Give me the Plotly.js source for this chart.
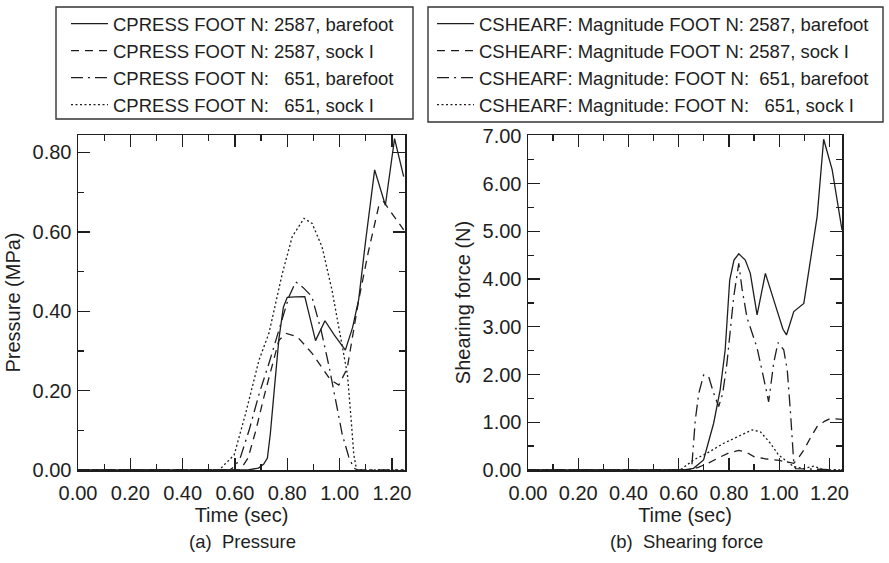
<!DOCTYPE html>
<html>
<head>
<meta charset="utf-8">
<script src="https://cdn.plot.ly/plotly-3.0.1.min.js"></script>
<style>html,body{margin:0;padding:0;background:#fff;}#chart{width:889px;height:563px;}</style>
</head>
<body>
<div id="chart"></div>
<script>
// ---------- Data: (a) Pressure (MPa) ----------
var tPBare2587 = [0, 0.60, 0.65, 0.69, 0.71, 0.724, 0.735, 0.75, 0.768, 0.785, 0.80, 0.83, 0.867, 0.908, 0.944, 0.98, 1.022, 1.05, 1.073, 1.10, 1.134, 1.175, 1.21, 1.245];
var pBare2587  = [0, 0, 0.0, 0.005, 0.015, 0.03, 0.09, 0.20, 0.33, 0.41, 0.435, 0.436, 0.437, 0.326, 0.376, 0.34, 0.302, 0.36, 0.43, 0.58, 0.756, 0.667, 0.835, 0.739];

var tPSock2587 = [0, 0.62, 0.65, 0.68, 0.711, 0.74, 0.768, 0.796, 0.838, 0.895, 0.965, 0.997, 1.029, 1.073, 1.11, 1.149, 1.168, 1.245];
var pSock2587  = [0, 0, 0.03, 0.10, 0.185, 0.26, 0.327, 0.344, 0.336, 0.294, 0.227, 0.214, 0.256, 0.428, 0.55, 0.663, 0.676, 0.605];

var tPBare651 = [0, 0.58, 0.60, 0.62, 0.654, 0.693, 0.73, 0.768, 0.806, 0.832, 0.86, 0.894, 0.93, 0.96, 0.984, 1.01, 1.035, 1.054, 1.07, 1.245];
var pBare651  = [0, 0, 0.01, 0.03, 0.10, 0.193, 0.269, 0.352, 0.436, 0.474, 0.46, 0.437, 0.35, 0.26, 0.176, 0.09, 0.033, 0.005, 0, 0];

var tPSock651 = [0, 0.54, 0.565, 0.597, 0.641, 0.692, 0.73, 0.781, 0.819, 0.864, 0.895, 0.933, 0.971, 1.0, 1.03, 1.045, 1.054, 1.065, 1.245];
var pSock651  = [0, 0, 0.017, 0.038, 0.143, 0.277, 0.345, 0.495, 0.588, 0.634, 0.621, 0.562, 0.453, 0.35, 0.24, 0.12, 0.04, 0, 0];

// ---------- Data: (b) Shearing force (N) ----------
var tSBare2587 = [0, 0.62, 0.659, 0.699, 0.739, 0.765, 0.785, 0.803, 0.82, 0.839, 0.865, 0.885, 0.912, 0.945, 0.985, 1.015, 1.029, 1.045, 1.058, 1.098, 1.151, 1.177, 1.211, 1.25];
var sBare2587  = [0, 0, 0.035, 0.21, 0.98, 1.68, 2.52, 3.98, 4.40, 4.53, 4.40, 4.12, 3.25, 4.12, 3.45, 2.95, 2.83, 3.10, 3.32, 3.49, 5.31, 6.93, 6.29, 5.03];

var tSSock2587 = [0, 0.64, 0.68, 0.72, 0.76, 0.80, 0.839, 0.87, 0.899, 0.95, 1.0, 1.04, 1.058, 1.08, 1.098, 1.125, 1.151, 1.18, 1.204, 1.25];
var sSock2587  = [0, 0, 0.06, 0.15, 0.26, 0.36, 0.41, 0.37, 0.28, 0.23, 0.20, 0.16, 0.14, 0.28, 0.42, 0.68, 0.91, 1.02, 1.08, 1.06];

var tSBare651 = [0, 0.645, 0.653, 0.666, 0.68, 0.699, 0.719, 0.739, 0.759, 0.775, 0.792, 0.819, 0.839, 0.852, 0.872, 0.912, 0.945, 0.958, 0.978, 0.995, 1.018, 1.032, 1.045, 1.058, 1.065, 1.25];
var sBare651  = [0, 0, 0.14, 1.05, 1.61, 1.99, 1.96, 1.61, 1.33, 1.60, 2.24, 3.63, 4.33, 3.80, 3.19, 2.56, 1.76, 1.43, 2.24, 2.67, 2.52, 2.10, 1.20, 0.15, 0.03, 0];

var tSSock651 = [0, 0.606, 0.659, 0.712, 0.779, 0.846, 0.892, 0.925, 0.965, 0.998, 1.032, 1.058, 1.098, 1.138, 1.164, 1.18, 1.25];
var sSock651  = [0, 0, 0.21, 0.35, 0.56, 0.73, 0.84, 0.80, 0.56, 0.31, 0.17, 0.07, 0.03, 0.08, 0.03, 0, 0];

// ---------- Labels ----------
var NB = '\u00a0';
var namesP = [
  'CPRESS FOOT N: 2587, barefoot',
  'CPRESS FOOT N: 2587, sock I',
  'CPRESS FOOT N:' + NB + NB + NB + '651, barefoot',
  'CPRESS FOOT N:' + NB + NB + NB + '651, sock I'
];
var namesS = [
  'CSHEARF: Magnitude FOOT N: 2587, barefoot',
  'CSHEARF: Magnitude FOOT N: 2587, sock I',
  'CSHEARF: Magnitude: FOOT N:' + NB + NB + '651, barefoot',
  'CSHEARF: Magnitude: FOOT N:' + NB + NB + NB + '651, sock I'
];
var xTickVals = [0, 0.2, 0.4, 0.6, 0.8, 1.0, 1.2];

var FONT = 'Liberation Sans, Arial, Helvetica, sans-serif';
var INK = '#1e1e1e';
var dashes = ['solid', '8px,6px', '12px,5px,2px,5px', '2px,2.5px'];

function tr(x, y, name, d, xa, ya, lg) {
  return {x: x, y: y, name: name, type: 'scatter', mode: 'lines',
    xaxis: xa, yaxis: ya, legend: lg,
    line: {color: INK, width: 1.3, dash: d, shape: 'linear'}, hoverinfo: 'skip'};
}

var data = [
  tr(tPBare2587, pBare2587, namesP[0], dashes[0], 'x', 'y', 'legend'),
  tr(tPSock2587, pSock2587, namesP[1], dashes[1], 'x', 'y', 'legend'),
  tr(tPBare651, pBare651, namesP[2], dashes[2], 'x', 'y', 'legend'),
  tr(tPSock651, pSock651, namesP[3], dashes[3], 'x', 'y', 'legend'),
  tr(tSBare2587, sBare2587, namesS[0], dashes[0], 'x2', 'y2', 'legend2'),
  tr(tSSock2587, sSock2587, namesS[1], dashes[1], 'x2', 'y2', 'legend2'),
  tr(tSBare651, sBare651, namesS[2], dashes[2], 'x2', 'y2', 'legend2'),
  tr(tSSock651, sSock651, namesS[3], dashes[3], 'x2', 'y2', 'legend2')
];

function xax(dom, anchor) {
  return {domain: dom, anchor: anchor, range: [0, 1.25], tickvals: xTickVals,
    tickformat: '.2f', ticks: 'inside', ticklen: 12, tickwidth: 1.3, tickcolor: INK,
    minor: {dtick: 0.1, tick0: 0, ticks: 'inside', ticklen: 6, tickwidth: 1.3, tickcolor: INK},
    showline: true, linecolor: INK, linewidth: 1.5, mirror: 'allticks',
    showgrid: false, zeroline: false, ticklabelstandoff: 4,
    tickfont: {family: FONT, size: 20, color: INK},
    title: {text: 'Time (sec)', font: {family: FONT, size: 20, color: INK}, standoff: 4}};
}
function yax(dom, anchor, rng, dt, mdt, title) {
  return {domain: dom, anchor: anchor, range: rng, dtick: dt, tick0: 0,
    tickformat: '.2f', ticks: 'inside', ticklen: 12, tickwidth: 1.3, tickcolor: INK,
    minor: {dtick: mdt, tick0: 0, ticks: 'inside', ticklen: 6, tickwidth: 1.3, tickcolor: INK},
    showline: true, linecolor: INK, linewidth: 1.5, mirror: 'allticks',
    showgrid: false, zeroline: false, ticklabelstandoff: 1,
    tickfont: {family: FONT, size: 20, color: INK},
    title: {text: title, font: {family: FONT, size: 20, color: INK}, standoff: 6}};
}

var yDom = [1 - 470 / 563, 1 - 135 / 563];
var legendBase = {
  xanchor: 'left', yanchor: 'top', bgcolor: 'rgba(0,0,0,0)', borderwidth: 0,
  font: {family: FONT, size: 18.5, color: INK}, itemwidth: 37, tracegroupgap: 0
};

var layout = {
  width: 889, height: 563, margin: {l: 0, r: 0, t: 0, b: 0},
  paper_bgcolor: '#fff', plot_bgcolor: '#fff', showlegend: true,
  font: {family: FONT, color: INK},
  xaxis: xax([78 / 889, 405 / 889], 'y'),
  yaxis: yax(yDom, 'x', [0, 0.844], 0.2, 0.1, 'Pressure (MPa)'),
  xaxis2: xax([528 / 889, 842 / 889], 'y2'),
  yaxis2: yax(yDom, 'x2', [0, 7.02], 1, 0.5, 'Shearing force (N)'),
  legend: Object.assign({}, legendBase, {x: 66 / 889, y: 1 - 5 / 563}),
  legend2: Object.assign({}, legendBase, {x: 432 / 889, y: 1 - 5 / 563}),
  shapes: [
    {type: 'rect', xref: 'paper', yref: 'paper', x0: 56 / 889, x1: 413 / 889, y0: 1 - 119 / 563, y1: 1 - 7 / 563,
     line: {color: '#333', width: 1.4}, fillcolor: 'rgba(0,0,0,0)'},
    {type: 'rect', xref: 'paper', yref: 'paper', x0: 428 / 889, x1: 883 / 889, y0: 1 - 122 / 563, y1: 1 - 7 / 563,
     line: {color: '#333', width: 1.4}, fillcolor: 'rgba(0,0,0,0)'}
  ],
  annotations: [
    {text: '(a)' + NB + NB + 'Pressure', xref: 'paper', yref: 'paper', x: 242 / 889, y: 1 - 541 / 563,
     xanchor: 'center', yanchor: 'middle', showarrow: false, font: {family: FONT, size: 18.5, color: INK}},
    {text: '(b)' + NB + NB + 'Shearing force', xref: 'paper', yref: 'paper', x: 686 / 889, y: 1 - 541 / 563,
     xanchor: 'center', yanchor: 'middle', showarrow: false, font: {family: FONT, size: 18.5, color: INK}}
  ]
};

Plotly.newPlot('chart', data, layout, {staticPlot: true, displayModeBar: false});
</script>
</body>
</html>
